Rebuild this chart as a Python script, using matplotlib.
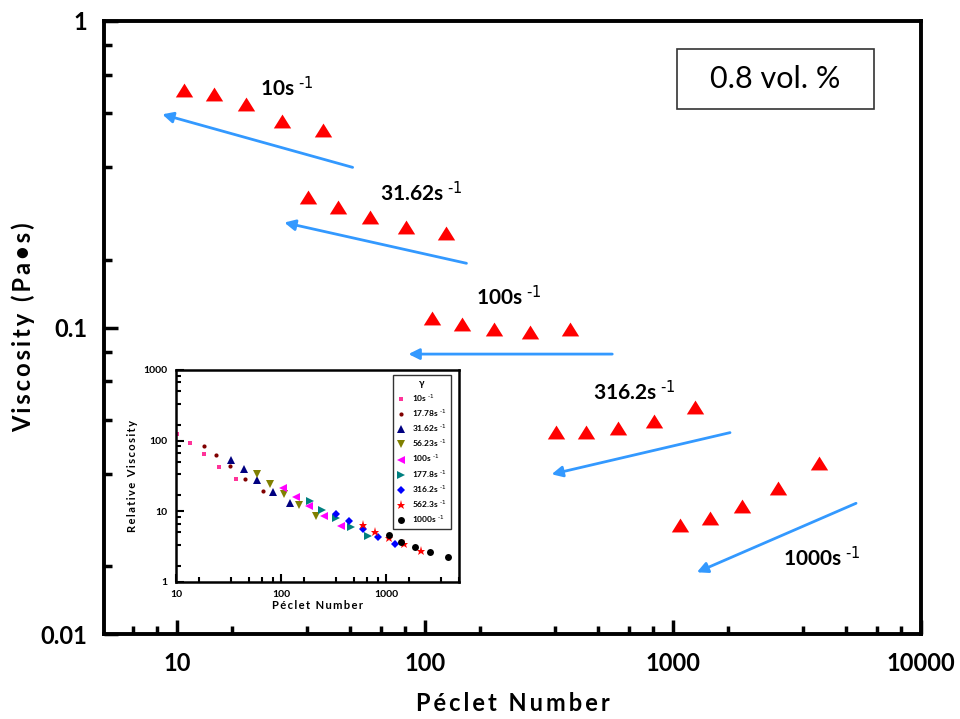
import numpy as np
import matplotlib
matplotlib.use('Agg')
import matplotlib.pyplot as plt
from matplotlib.ticker import FixedLocator, NullFormatter
from matplotlib.patches import Rectangle

plt.rcParams['font.family'] = ['Lato', 'DejaVu Sans']
plt.rcParams['mathtext.default'] = 'regular'

# ---- main plot: viscosity vs Peclet number, 0.8 vol.% ----
shear_main = ['10', '31.62', '100', '316.2', '1000']
pe_main = [
    [10.7, 14.1, 19.0, 26.6, 38.8],
    [33.8, 44.6, 60.0, 84.1, 122.0],
    [106.7, 140.6, 190.0, 265.0, 386.0],
    [336.0, 444.0, 600.0, 838.0, 1222.0],
    [1064.0, 1406.0, 1897.0, 2651.0, 3866.0],
]
visc_main = [
    [0.595, 0.576, 0.536, 0.472, 0.442],
    [0.267, 0.248, 0.230, 0.212, 0.204],
    [0.107, 0.1024, 0.0989, 0.0967, 0.0987],
    [0.0457, 0.0457, 0.0471, 0.0497, 0.0552],
    [0.0227, 0.0239, 0.0262, 0.0300, 0.0362],
]
# label anchors (left edge, vertical centre) for each shear rate
label_pos = [(21.6, 0.604), (65.9, 0.275), (161.0, 0.126), (476.0, 0.0616), (2767.0, 0.01766)]
# trend arrows: (tail, head)
arrows = [
    ((51.1, 0.333), (8.73, 0.496)),
    ((147.0, 0.162), (27.1, 0.220)),
    ((569.0, 0.0819), (85.8, 0.0819)),
    ((1698.0, 0.0454), (324.0, 0.0332)),
    ((5470.0, 0.0267), (1248.0, 0.0159)),
]

# ---- inset: relative viscosity vs Peclet number ----
inset_labels = ['10', '17.78', '31.62', '56.23', '100', '177.8', '316.2', '562.3', '1000']
inset_pe = [
    [10.3, 13.6, 18.5, 25.6, 37.2],
    [18.5, 24.3, 32.7, 45.7, 67.0],
    [33.6, 44.4, 59.6, 83.6, 122.0],
    [59.2, 78.2, 106.0, 148.0, 217.0],
    [104.0, 138.0, 187.0, 259.0, 374.0],
    [189.0, 248.0, 337.0, 463.0, 682.0],
    [335.0, 446.0, 603.0, 838.0, 1218.0],
    [607.0, 796.0, 1069.0, 1497.0, 2177.0],
    [1062.0, 1403.0, 1897.0, 2655.0, 3890.0],
]
inset_rv = [
    [122.0, 93.3, 63.8, 42.7, 28.5],
    [84.7, 61.8, 43.2, 28.8, 19.5],
    [53.1, 39.1, 27.6, 18.7, 13.0],
    [33.6, 24.5, 17.7, 12.2, 8.53],
    [21.5, 16.0, 11.8, 8.63, 6.15],
    [13.9, 10.5, 7.91, 5.96, 4.49],
    [9.21, 7.24, 5.58, 4.35, 3.42],
    [6.36, 5.12, 4.16, 3.39, 2.75],
    [4.54, 3.66, 3.10, 2.64, 2.26],
]
inset_markers = ['s', 'o', '^', 'v', '<', '>', 'D', '*', 'o']
inset_colors = ['#ff3399', '#800000', '#000080', '#808000', '#ff00ff',
                '#008080', '#0000ff', '#ff0000', '#000000']
inset_sizes = [2.5, 3, 5.5, 5.5, 5.5, 5.5, 4.5, 6.5, 5]

arrow_col = '#3399ff'
tri = [(-1.0, -0.8), (1.0, -0.8), (0.0, 0.8)]


def sixth_minors(e0, e1):
    # Origin-style minor ticks at k/6 of each decade
    return [10.0 ** (e + 1) * k / 6 for e in range(e0, e1) for k in range(1, 6)]


def spaced(s):
    # widen letter spacing with thin spaces
    return '\u2009'.join(s)


def rate(s):
    return s + r's$^{\text{ -1}}$'


fig = plt.figure(figsize=(9.6, 7.19), dpi=100)
ax = fig.add_axes([0.1083, 0.1182, 0.8511, 0.8526])

for pe, v in zip(pe_main, visc_main):
    ax.plot(pe, v, linestyle='none', marker=tri, markersize=12.5,
            color='#ff0000', markeredgewidth=0)

for (tail, head) in arrows:
    ax.annotate('', xy=head, xytext=tail,
                arrowprops=dict(arrowstyle='-|>', color=arrow_col, lw=2.0,
                                shrinkA=0, shrinkB=0, mutation_scale=16))

for lab, (x, y) in zip(shear_main, label_pos):
    ax.text(x, y, rate(lab), fontsize=15, fontweight='bold',
            ha='left', va='center')

ax.set_xscale('log')
ax.set_yscale('log')
ax.set_xlim(5.08, 10000)
ax.set_ylim(0.01, 1)
ax.xaxis.set_major_locator(FixedLocator([10, 100, 1000, 10000]))
ax.xaxis.set_minor_locator(FixedLocator(sixth_minors(0, 4)))
ax.yaxis.set_major_locator(FixedLocator([0.01, 0.1, 1]))
ax.yaxis.set_minor_locator(FixedLocator(sixth_minors(-2, 0)))
ax.xaxis.set_minor_formatter(NullFormatter())
ax.yaxis.set_minor_formatter(NullFormatter())
ax.set_xticklabels(['10', '100', '1000', '10000'])
ax.set_yticklabels(['0.01', '0.1', '1'])
ax.tick_params(which='both', direction='in', width=2.5, top=False, right=False)
ax.tick_params(which='major', length=10, labelsize=17, pad=12)
ax.tick_params(which='minor', length=6)
ax.tick_params(axis='x', which='major', pad=13)
for lbl in ax.get_xticklabels() + ax.get_yticklabels():
    lbl.set_fontweight('bold')
for sp in ax.spines.values():
    sp.set_linewidth(2.8)

ax.set_xlabel(spaced('Péclet Number'), fontsize=17, fontweight='bold', labelpad=12)
ax.set_ylabel(spaced('Viscosity (Pa•s)'), fontsize=17, fontweight='bold', labelpad=4)

# concentration box
ax.add_patch(Rectangle((0.7014, 0.8564), 0.2411, 0.0979, transform=ax.transAxes,
                       fill=False, edgecolor='#333333', lw=1.2))
ax.text(0.822, 0.905, '0.8 vol. %', transform=ax.transAxes, fontsize=22,
        ha='center', va='center')

# ---- inset ----
ins = fig.add_axes([0.1833, 0.1910, 0.2951, 0.2944])
for pe, rv, m, c, s, lab in zip(inset_pe, inset_rv, inset_markers, inset_colors,
                                inset_sizes, inset_labels):
    ins.plot(pe, rv, linestyle='none', marker=m, markersize=s, color=c,
             markeredgewidth=0, label=rate(lab))

ins.set_xscale('log')
ins.set_yscale('log')
ins.set_xlim(10, 5000)
ins.set_ylim(1, 1000)
ins.xaxis.set_major_locator(FixedLocator([10, 100, 1000]))
ins.xaxis.set_minor_locator(FixedLocator(sixth_minors(1, 4)))
ins.yaxis.set_major_locator(FixedLocator([1, 10, 100, 1000]))
ins.yaxis.set_minor_locator(FixedLocator(sixth_minors(0, 3)))
ins.xaxis.set_minor_formatter(NullFormatter())
ins.yaxis.set_minor_formatter(NullFormatter())
ins.set_xticklabels(['10', '100', '1000'])
ins.set_yticklabels(['1', '10', '100', '1000'])
ins.tick_params(which='both', direction='in', width=1.5, top=False, right=False)
ins.tick_params(which='major', length=6, labelsize=7.5, pad=6)
ins.tick_params(which='minor', length=3.5)
for lbl in ins.get_xticklabels() + ins.get_yticklabels():
    lbl.set_fontweight('bold')
for sp in ins.spines.values():
    sp.set_linewidth(1.8)
ins.set_xlabel(spaced('Péclet Number'), fontsize=8, fontweight='bold', labelpad=1)
ins.set_ylabel(spaced('Relative Viscosity'), fontsize=8, fontweight='bold', labelpad=4)

leg = ins.legend(loc='upper right', bbox_to_anchor=(0.97, 0.975), borderaxespad=0,
                 title='γ', fontsize=6, title_fontsize=7, frameon=True,
                 fancybox=False, edgecolor='black', handlelength=1.0,
                 handletextpad=0.8, labelspacing=0.42, borderpad=0.5)
leg.get_frame().set_linewidth(1.0)
leg.get_title().set_fontweight('bold')
for t in leg.get_texts():
    t.set_fontweight('bold')

fig.savefig('out.png', dpi=100)
